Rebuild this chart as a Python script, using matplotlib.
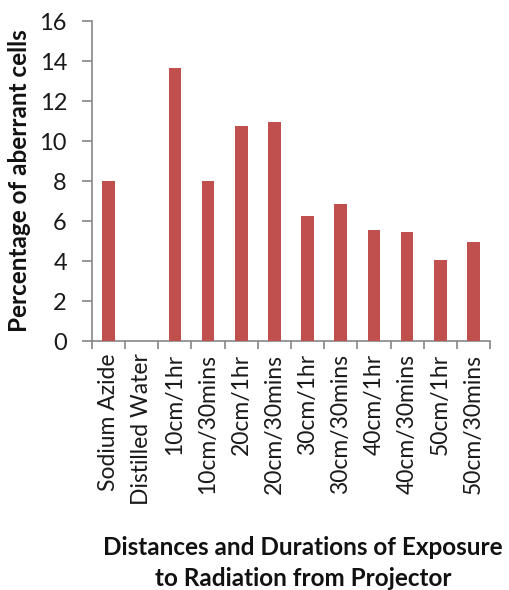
import matplotlib
matplotlib.use("Agg")
import matplotlib.pyplot as plt
import numpy as np

categories = ["Sodium Azide", "Distilled Water", "10cm/1hr", "10cm/30mins",
              "20cm/1hr", "20cm/30mins", "30cm/1hr", "30cm/30mins",
              "40cm/1hr", "40cm/30mins", "50cm/1hr", "50cm/30mins"]
values = [8.0, 0.0, 13.65, 8.0, 10.75, 10.93, 6.23, 6.83, 5.53, 5.43, 4.03, 4.93]
y_ticks = [0, 2, 4, 6, 8, 10, 12, 14, 16]

plt.rcParams["font.family"] = ["Lato", "DejaVu Sans"]

fig = plt.figure(figsize=(5.09, 5.90), dpi=100)
ax = fig.add_axes([0.1807, 0.422, 0.782, 0.5424])

x = np.arange(len(categories))
ax.bar(x, values, width=0.38, color="#C0504D", zorder=3)

ax.set_xlim(-0.5, len(categories) - 0.5)
ax.set_ylim(0, 16)
ax.set_yticks(y_ticks)
ax.set_yticklabels([str(t) for t in y_ticks], fontsize=17, color="#1a1a1a")

ax.set_xticks(x)
ax.set_xticklabels(categories, rotation=90, fontsize=16.5, color="#1a1a1a")
ax.tick_params(axis="x", which="major", length=0, pad=9)
ax.set_xticks(np.arange(-0.5, len(categories)), minor=True)
ax.tick_params(axis="x", which="minor", length=6, color="#868686", width=1.2)
ax.tick_params(axis="y", length=7, color="#868686", width=1.2, pad=11)

for side in ["top", "right"]:
    ax.spines[side].set_visible(False)
for side in ["left", "bottom"]:
    ax.spines[side].set_color("#868686")
    ax.spines[side].set_linewidth(1.2)

ax.set_ylabel("Percentage of aberrant cells", fontsize=17.5, fontweight="bold",
              color="#111111")
ax.yaxis.set_label_coords(-0.183, 0.5)
ax.yaxis.label.set_va("center")
fig.text(0.595, 0.0455, "Distances and Durations of Exposure\nto Radiation from Projector",
         ha="center", va="center", fontsize=17.5, fontweight="bold", color="#111111",
         linespacing=1.45)

fig.savefig("out.png", dpi=100)
